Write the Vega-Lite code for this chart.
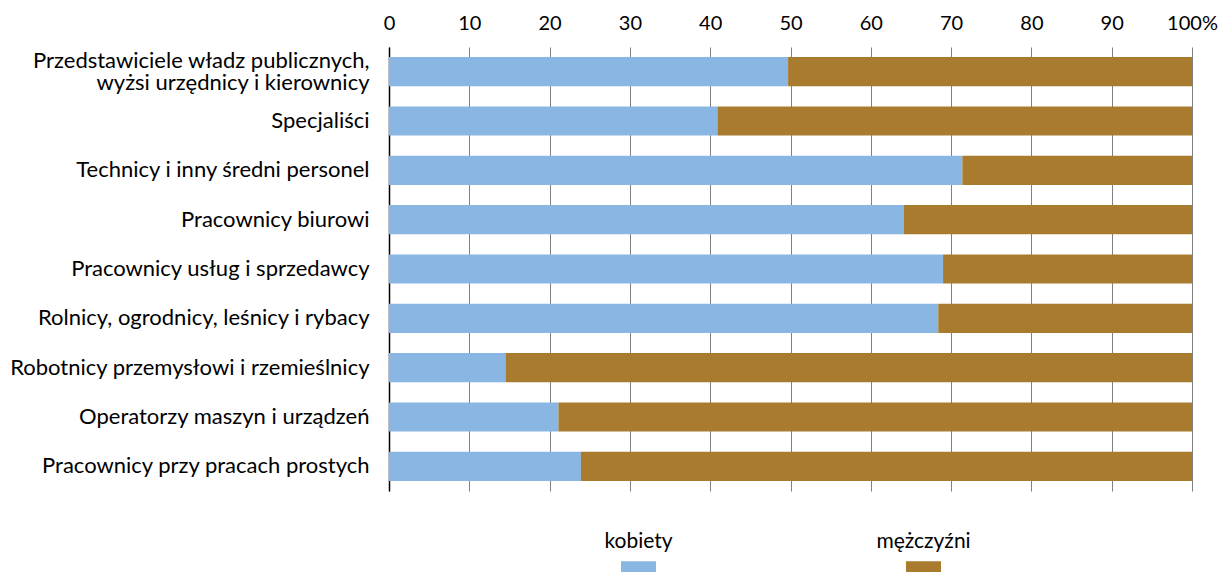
{
  "$schema": "https://vega.github.io/schema/vega-lite/v6.json",
  "autosize": {"type": "none"},
  "padding": {"left": 389, "top": 47, "right": 34, "bottom": 81},
  "width": 803,
  "height": 444,
  "background": "white",
  "config": {
    "view": {"stroke": null},
    "font": "Lato",
    "axis": {"labelFont": "Lato", "labelColor": "#000000"}
  },
  "data": {
    "values": [
      {"zawod": "Przedstawiciele władz publicznych,|wyżsi urzędnicy i kierownicy", "plec": "kobiety", "udzial": 49.7},
      {"zawod": "Przedstawiciele władz publicznych,|wyżsi urzędnicy i kierownicy", "plec": "mężczyźni", "udzial": 50.3},
      {"zawod": "Specjaliści", "plec": "kobiety", "udzial": 40.9},
      {"zawod": "Specjaliści", "plec": "mężczyźni", "udzial": 59.1},
      {"zawod": "Technicy i inny średni personel", "plec": "kobiety", "udzial": 71.4},
      {"zawod": "Technicy i inny średni personel", "plec": "mężczyźni", "udzial": 28.6},
      {"zawod": "Pracownicy biurowi", "plec": "kobiety", "udzial": 64.1},
      {"zawod": "Pracownicy biurowi", "plec": "mężczyźni", "udzial": 35.9},
      {"zawod": "Pracownicy usług i sprzedawcy", "plec": "kobiety", "udzial": 69.0},
      {"zawod": "Pracownicy usług i sprzedawcy", "plec": "mężczyźni", "udzial": 31.0},
      {"zawod": "Rolnicy, ogrodnicy, leśnicy i rybacy", "plec": "kobiety", "udzial": 68.4},
      {"zawod": "Rolnicy, ogrodnicy, leśnicy i rybacy", "plec": "mężczyźni", "udzial": 31.6},
      {"zawod": "Robotnicy przemysłowi i rzemieślnicy", "plec": "kobiety", "udzial": 14.5},
      {"zawod": "Robotnicy przemysłowi i rzemieślnicy", "plec": "mężczyźni", "udzial": 85.5},
      {"zawod": "Operatorzy maszyn i urządzeń", "plec": "kobiety", "udzial": 21.1},
      {"zawod": "Operatorzy maszyn i urządzeń", "plec": "mężczyźni", "udzial": 78.9},
      {"zawod": "Pracownicy przy pracach prostych", "plec": "kobiety", "udzial": 23.9},
      {"zawod": "Pracownicy przy pracach prostych", "plec": "mężczyźni", "udzial": 76.1}
    ]
  },
  "mark": {"type": "bar"},
  "encoding": {
    "y": {
      "field": "zawod",
      "type": "nominal",
      "sort": null,
      "title": null,
      "scale": {"paddingInner": 0.41, "paddingOuter": 0.205},
      "axis": {
        "ticks": false,
        "domainColor": "#000000",
        "domainWidth": 1.5,
        "labelFontSize": 22,
        "labelPadding": 20,
        "labelLimit": 600,
        "labelLineHeight": 22,
        "labelExpr": "split(datum.label, '|')",
        "labelOffset": {
          "condition": {"test": "indexof(datum.value, '|') >= 0", "value": -11},
          "value": 0
        }
      }
    },
    "x": {
      "field": "udzial",
      "type": "quantitative",
      "stack": "zero",
      "title": null,
      "scale": {"domain": [0, 100], "nice": false},
      "axis": {
        "orient": "top",
        "values": [0, 10, 20, 30, 40, 50, 60, 70, 80, 90, 100],
        "domain": false,
        "ticks": false,
        "grid": true,
        "gridColor": "#808080",
        "gridWidth": 1,
        "labelFontSize": 20,
        "labelPadding": 14,
        "labelFlush": false,
        "labelBound": false,
        "labelExpr": "datum.value == 100 ? '100%' : datum.label"
      }
    },
    "color": {
      "field": "plec",
      "type": "nominal",
      "title": null,
      "scale": {"domain": ["kobiety", "mężczyźni"], "range": ["#8AB6E3", "#A87B2F"]},
      "legend": {
        "orient": "none",
        "direction": "horizontal",
        "legendX": 232,
        "legendY": 502,
        "padding": 0,
        "labelFont": "Lato",
        "labelFontSize": 21,
        "labelColor": "#000000",
        "labelAlign": "center",
        "labelOffset": -17.5,
        "symbolType": "M-1,-0.32H1V0.32H-1Z",
        "symbolSize": 1225,
        "symbolStrokeWidth": 0,
        "columnPadding": 203,
        "encode": {"labels": {"update": {"dy": {"value": -25}}}}
      }
    }
  }
}
